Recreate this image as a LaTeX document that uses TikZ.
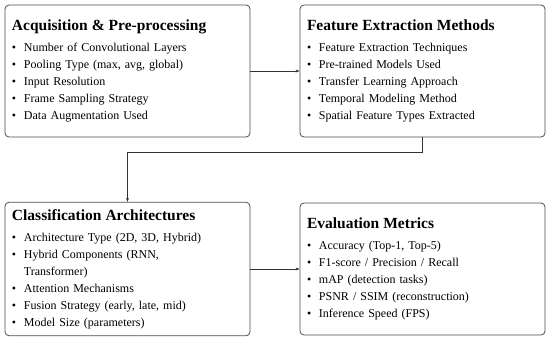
\documentclass[tikz,border=0pt]{standalone}
\usepackage{fontspec}
\setmainfont{Liberation Serif}
\usetikzlibrary{positioning,arrows.meta}
\newcommand{\itm}[1]{\par\hangindent=12pt\hangafter=1\noindent\makebox[12pt][l]{\textbullet}#1}
\newcommand{\boxhead}[1]{{\fontsize{15.5}{17}\selectfont\bfseries #1\par}\vspace{4pt}}
\begin{document}
\begin{tikzpicture}[x=1pt,y=1pt]
    \useasboundingbox (0,0) rectangle (550,-343);
    \tikzset{block/.style={draw=gray!60!black, line width=.8pt, rounded corners=4pt,
        minimum width=245pt, minimum height=132pt, text width=231pt, inner sep=7pt,
        align=left, font=\fontsize{12}{17}\selectfont}}
    \tikzset{link/.style={draw=black!80, line width=.8pt, -{Stealth[length=4pt,width=3pt]}}}
    \node[block] (acq) at (127.5,-71) {\boxhead{Acquisition \& Pre-processing}
        \itm{Number of Convolutional Layers}
        \itm{Pooling Type (max, avg, global)}
        \itm{Input Resolution}
        \itm{Frame Sampling Strategy}
        \itm{Data Augmentation Used}};
    \node[block] (feat) at (422.5,-71) {\boxhead{Feature Extraction Methods}
        \itm{Feature Extraction Techniques}
        \itm{Pre-trained Models Used}
        \itm{Transfer Learning Approach}
        \itm{Temporal Modeling Method}
        \itm{Spatial Feature Types Extracted}};
    \node[block] (cls) at (127.5,-269) {\boxhead{Classification Architectures}
        \itm{Architecture Type (2D, 3D, Hybrid)}
        \itm{Hybrid Components (RNN,\newline Transformer)}
        \itm{Attention Mechanisms}
        \itm{Fusion Strategy (early, late, mid)}
        \itm{Model Size (parameters)}};
    \node[block] (eval) at (422.5,-269) {\boxhead{Evaluation Metrics}
        \itm{Accuracy (Top-1, Top-5)}
        \itm{F1-score / Precision / Recall}
        \itm{mAP (detection tasks)}
        \itm{PSNR / SSIM (reconstruction)}
        \itm{Inference Speed (FPS)}};
    \draw[link] (acq) -- (feat);
    \draw[link] (feat.south) -- ++(0,-15) -| (cls.north);
    \draw[link] (cls) -- (eval);
\end{tikzpicture}
\end{document}
